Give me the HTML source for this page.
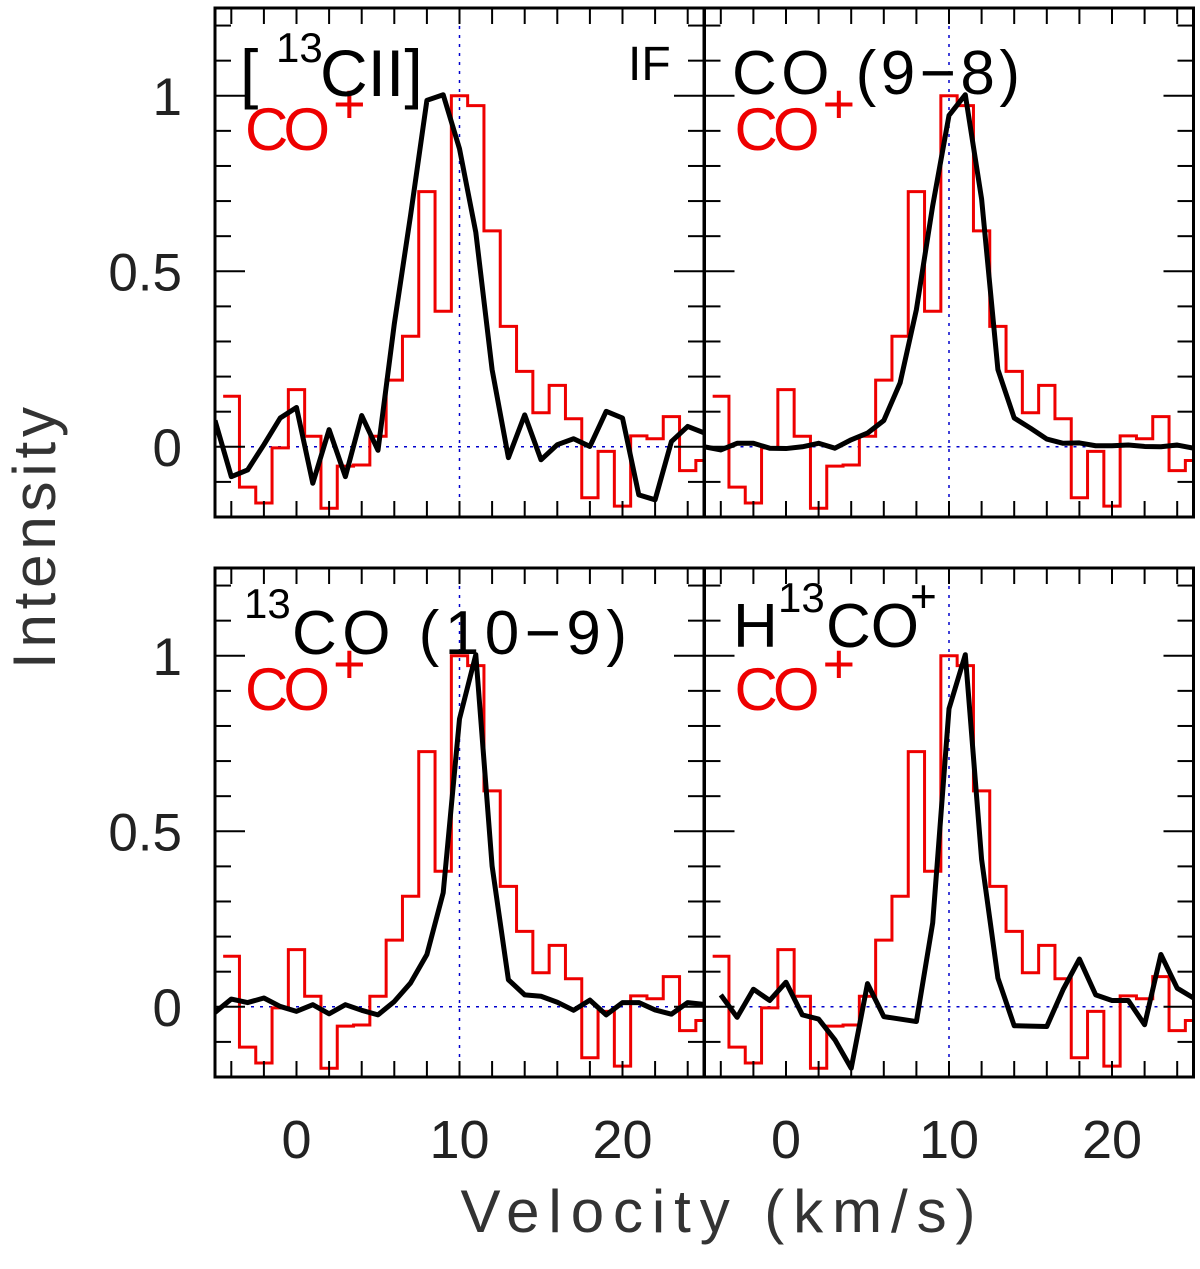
<!DOCTYPE html>
<html><head><meta charset="utf-8"><style>
html,body{margin:0;padding:0;background:#fff;}
svg text{font-family:"Liberation Sans",sans-serif;}
</style></head><body>
<svg id="chart" xmlns="http://www.w3.org/2000/svg" width="1200" height="1264" viewBox="0 0 1200 1264">
<rect x="0" y="0" width="1200" height="1264" fill="#fff"/>
<g id="plots"></g>
<text x="240" y="96" font-size="66" fill="#000">[</text>
<text x="276" y="62" font-size="42" fill="#000">13</text>
<text x="320" y="96" font-size="66" fill="#000">CII]</text>
<text x="628" y="80" font-size="48" fill="#000">IF</text>
<text x="732" y="94" font-size="62" fill="#000" textLength="288" lengthAdjust="spacing">CO (9−8)</text>
<text x="244" y="618" font-size="42" fill="#000">13</text>
<text x="292" y="654" font-size="62" fill="#000" textLength="335" lengthAdjust="spacing">CO (10−9)</text>
<text x="733" y="647" font-size="62" fill="#000">H</text>
<text x="778" y="612" font-size="42" fill="#000">13</text>
<text x="826" y="647" font-size="62" fill="#000">CO</text>
<text x="910" y="612" font-size="46" fill="#000">+</text>
<text x="718" y="1232" font-size="60" fill="#333" text-anchor="middle" textLength="515" lengthAdjust="spacing">Velocity (km/s)</text>
<text transform="translate(55,538) rotate(-90)" font-size="60" fill="#333" text-anchor="middle" textLength="262" lengthAdjust="spacing">Intensity</text>
</svg>
<script>
// CO+ histogram (bin centers -4..25, 1 km/s bins)
const coplusCenters = [-4,-3,-2,-1,0,1,2,3,4,5,6,7,8,9,10,11,12,13,14,15,16,17,18,19,20,21,22,23,24,25];
const coplusValues = [0.144,-0.115,-0.16,-0.003,0.163,0.03,-0.175,-0.055,-0.052,0.03,0.19,0.315,0.727,0.386,1.0,0.972,0.615,0.343,0.215,0.097,0.175,0.08,-0.145,-0.013,-0.169,0.031,0.023,0.086,-0.068,-0.039];
// black spectra
const velA = [-5,-4,-3,-2,-1,0,1,2,3,4,5,6,7,8,9,10,11,12,13,14,15,16,17,18,19,20,21,22,23,24,25];
const c13iiValues = [0.075,-0.085,-0.066,0.006,0.082,0.112,-0.104,0.049,-0.085,0.089,-0.01,0.35,0.66,0.987,1.003,0.849,0.611,0.22,-0.031,0.091,-0.037,0.006,0.023,0.001,0.101,0.082,-0.137,-0.151,0.015,0.058,0.04];
const co98Values = [0.0,-0.009,0.01,0.01,-0.004,-0.005,0,0.01,-0.004,0.02,0.039,0.075,0.182,0.391,0.687,0.944,1.003,0.706,0.22,0.082,0.053,0.022,0.01,0.011,0.003,0.003,0.005,0.001,0,0.005,-0.004];
const co13Values = [-0.016,0.022,0.012,0.025,0.001,-0.013,0.006,-0.02,0.006,-0.01,-0.023,0.015,0.068,0.149,0.325,0.82,1.003,0.401,0.077,0.034,0.03,0.013,-0.01,0.019,-0.023,0.012,0.012,-0.009,-0.021,0.012,0.007];
const velB = [-4,-3,-2,-1,0,1,2,3,4,5,6,7,8,9,10,11,12,13,14,15,16,17,18,19,20,21,22,23,24,25];
const h13coValues = [0.034,-0.03,0.05,0.018,0.07,-0.023,-0.035,-0.094,-0.175,0.066,-0.028,-0.035,-0.042,0.239,0.849,1.003,0.42,0.082,-0.054,-0.055,-0.056,0.049,0.136,0.034,0.018,0.018,-0.051,0.149,0.053,0.025];
const xTickLabels = [0,10,20];
const yTickLabels = [0,0.5,1];

const NS="http://www.w3.org/2000/svg";
const root=document.getElementById('plots');
function mk(tag,attrs,parent){const e=document.createElementNS(NS,tag);for(const k in attrs)e.setAttribute(k,attrs[k]);(parent||root).appendChild(e);return e;}

const XMIN=-5,XMAX=25,YMIN=-0.2,YMAX=1.25,PW=489,PH=509;
const panels=[
 {x0:215,y0:8,name:'c13ii',vel:velA,vals:c13iiValues,bottom:false,left:true},
 {x0:704.5,y0:8,name:'co98',vel:velA,vals:co98Values,bottom:false,left:false},
 {x0:215,y0:568,name:'13co',vel:velA,vals:co13Values,bottom:true,left:true},
 {x0:704.5,y0:568,name:'h13co',vel:velB,vals:h13coValues,bottom:true,left:false}
];
panels.forEach((p,i)=>{
 const xs=v=>p.x0+(v-XMIN)/(XMAX-XMIN)*PW;
 const ys=y=>p.y0+(YMAX-y)/(YMAX-YMIN)*PH;
 const g=mk('g',{});
 
 
 const cp=mk('clipPath',{id:'clip'+i},g);
 mk('rect',{x:p.x0,y:p.y0,width:PW,height:PH},cp);
 const inner=mk('g',{'clip-path':'url(#clip'+i+')'},g);
 const hz=mk('line',{x1:p.x0,x2:p.x0+PW,y1:ys(0),y2:ys(0),stroke:'#0000cc','stroke-width':1.5,'stroke-dasharray':'3 6'},inner);
 
 
 const vt=mk('line',{x1:xs(10),x2:xs(10),y1:p.y0,y2:p.y0+PH,stroke:'#0000cc','stroke-width':1.5,'stroke-dasharray':'3 6'},inner);
 
 
 let d='';
 coplusCenters.forEach((c,k)=>{
   const y=ys(coplusValues[k]);
   d+=(k===0?'M':'L')+xs(c-0.5)+','+y+' L'+xs(c+0.5)+','+y+' ';
 });
 const hp=mk('path',{d:d,fill:'none',stroke:'#ee0000','stroke-width':3},inner);
 
 
 let d2='';
 p.vel.forEach((v,k)=>{d2+=(k===0?'M':'L')+xs(v)+','+ys(p.vals[k])+' ';});
 const lp=mk('path',{d:d2,fill:'none',stroke:'#000','stroke-width':5,'stroke-linejoin':'round'},inner);
 
 
 for(let v=-4;v<=24;v+=2){
   const x=xs(v);
   mk('line',{x1:x,x2:x,y1:p.y0+PH,y2:p.y0+PH-16,stroke:'#000','stroke-width':2},g);
   mk('line',{x1:x,x2:x,y1:p.y0,y2:p.y0+16,stroke:'#000','stroke-width':2},g);
 }
 for(let k=-2;k<=12;k++){
   const y=ys(k/10);const L=(k%5===0)?30:16;
   mk('line',{x1:p.x0,x2:p.x0+L,y1:y,y2:y,stroke:'#000','stroke-width':2},g);
   mk('line',{x1:p.x0+PW,x2:p.x0+PW-L,y1:y,y2:y,stroke:'#000','stroke-width':2},g);
 }
 const fr=mk('rect',{x:p.x0,y:p.y0,width:PW,height:PH,fill:'none',stroke:'#000','stroke-width':3},g);
 
 
 if(p.left){
   yTickLabels.forEach(t=>{
     const tx=mk('text',{x:182,y:ys(t)+19,'font-size':53,'text-anchor':'end',fill:'#222'});
     tx.textContent=String(t);
     
     
   });
 }
 if(p.bottom){
   xTickLabels.forEach(t=>{
     const tx=mk('text',{x:xs(t),y:1158,'font-size':54,'text-anchor':'middle',fill:'#222'});
     tx.textContent=String(t);
     
     
   });
 }
 const cl=mk('text',{x:p.x0+30,y:p.y0+142,'font-size':60,fill:'#ee0000',textLength:85,lengthAdjust:'spacing'});
 cl.textContent='CO';
 
 
 const cs=mk('text',{x:p.x0+118,y:p.y0+115,'font-size':56,fill:'#ee0000'});
 cs.textContent='+';
 
 
});
</script>
</body></html>
